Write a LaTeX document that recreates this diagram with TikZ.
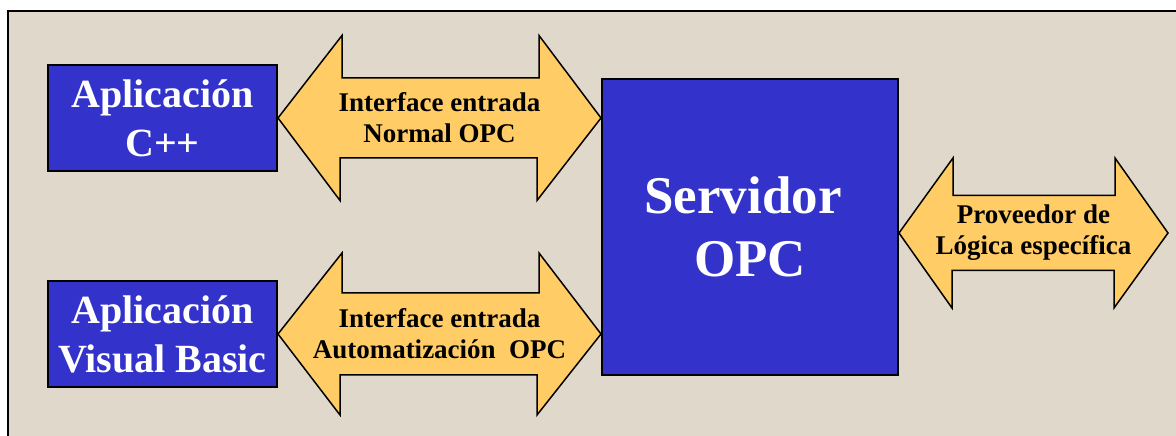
\documentclass[tikz,border=0pt]{standalone}
\usepackage{fontspec}
\setmainfont{Liberation Serif}
\usetikzlibrary{calc}
\definecolor{bgbeige}{HTML}{E0D8CB}
\definecolor{boxblue}{HTML}{3333CC}
\definecolor{arrowgold}{HTML}{FFCC66}
\begin{document}
\begin{tikzpicture}[x=1pt,y=1pt,
  appbox/.style={draw=black, line width=2pt, fill=boxblue, text=white,
    font=\bfseries\fontsize{40}{49}\selectfont, align=center, inner sep=0pt,
    minimum width=229pt, minimum height=106pt},
  srvbox/.style={draw=black, line width=2pt, fill=boxblue, text=white,
    font=\bfseries\fontsize{53}{63}\selectfont, align=center, inner sep=0pt,
    minimum width=296pt, minimum height=296pt},
  arrowshape/.style={draw=black, line width=1.5pt, fill=arrowgold, line join=miter},
  arrowtext/.style={font=\bfseries\fontsize{27}{31}\selectfont, align=center, inner sep=0pt, text=black}]
\useasboundingbox (0,0) rectangle (1176,436);
\begin{scope}
  \clip (0,0) rectangle (1176,436);
  \fill[white] (0,0) rectangle (1176,436);
  \draw[line width=2pt, fill=bgbeige] (8,-10) rectangle (1190,425);
\end{scope}

% boxes
\node[appbox] (cpp) at (162.5,318) {Aplicación\\C++};
\node[appbox] (vb) at (162.5,102) {Aplicación\\Visual Basic};
\node[srvbox] (srv) at (750,209) {Servidor\hspace*{14pt}\\OPC};

% arrow endpoints
\coordinate (a1l) at (cpp.east);
\coordinate (a1r) at (srv.west |- cpp.east);
\coordinate (a2l) at (vb.east);
\coordinate (a2r) at (srv.west |- vb.east);
\coordinate (a3l) at ([yshift=-6pt]srv.east);
\coordinate (a3r) at (1168,203);

% arrow 1
\draw[arrowshape] (a1l) -- ++(64,82.5) -- ++(0,-42.5) -- ++(197,0) -- ++(0,42.5)
  -- (a1r) -- ++(-64,-82.5) -- ++(0,42.5) -- ++(-197,0) -- ++(0,-42.5) -- cycle;
% arrow 2
\draw[arrowshape] (a2l) -- ++(64,81) -- ++(0,-40) -- ++(197,0) -- ++(0,40)
  -- (a2r) -- ++(-64,-81) -- ++(0,40) -- ++(-197,0) -- ++(0,-40) -- cycle;
% arrow 3
\draw[arrowshape] (a3l) -- ++(54,75) -- ++(0,-37.5) -- ++(162,0) -- ++(0,37.5)
  -- (a3r) -- ++(-54,-75) -- ++(0,37.5) -- ++(-162,0) -- ++(0,-37.5) -- cycle;

% arrow labels
\node[arrowtext] (t1) at ($(a1l)!0.5!(a1r)$) {Interface entrada\\Normal OPC};
\node[arrowtext] (t2) at ($(a2l)!0.5!(a2r)$) {Interface entrada\\Automatización\ \ OPC};
\node[arrowtext] (t3) at ($(a3l)!0.5!(a3r)$) {Proveedor de\\Lógica específica};
\end{tikzpicture}
\end{document}
